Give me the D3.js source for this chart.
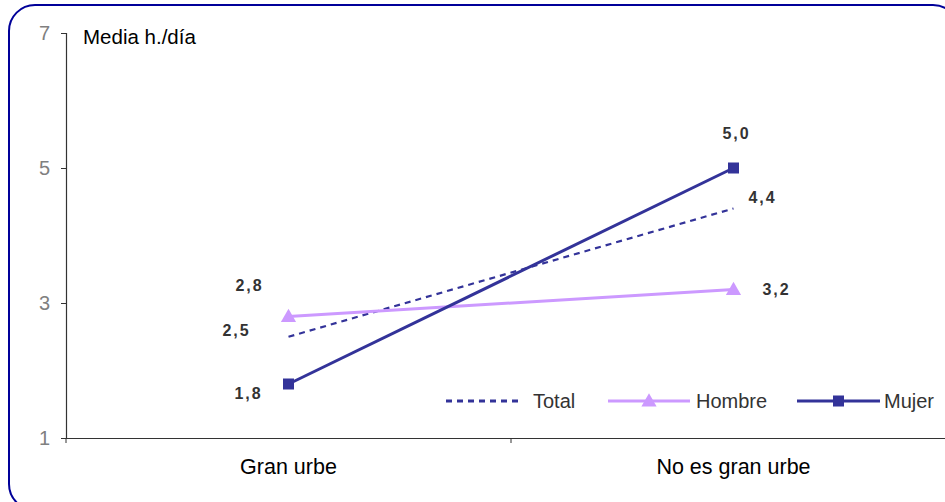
<!DOCTYPE html>
<html>
<head>
<meta charset="utf-8">
<script src="https://cdn.jsdelivr.net/npm/d3@7"></script>
<style>
  html, body { margin: 0; padding: 0; background: #fff; }
  svg { display: block; font-family: "Liberation Sans", Arial, sans-serif; }
</style>
</head>
<body>
<svg id="chart" width="945" height="502"></svg>
<script>
// Media de horas al día, por tipo de municipio y sexo
const categories = ["Gran urbe", "No es gran urbe"];
const total  = [2.5, 4.4];
const hombre = [2.8, 3.2];
const mujer  = [1.8, 5.0];
const yTicks = [1, 3, 5, 7];
const yTitle = "Media h./día";

const series = [
  { name: "Total",  values: total,  color: "#333399", width: 2.2, dash: "6,5", marker: null },
  { name: "Hombre", values: hombre, color: "#CC99FF", width: 3,   dash: null,  marker: "triangle" },
  { name: "Mujer",  values: mujer,  color: "#333399", width: 3,   dash: null,  marker: "square" }
];

const svg = d3.select("#chart");
const FONT = "Liberation Sans, Arial, sans-serif";

// rounded frame around the whole chart
svg.append("rect")
  .attr("x", 9).attr("y", 5)
  .attr("width", 950).attr("height", 505)
  .attr("rx", 26).attr("ry", 26)
  .attr("fill", "#fff")
  .attr("stroke", "#000099")
  .attr("stroke-width", 2);

const plotLeft = 66, plotRight = 956, plotTop = 33, plotBottom = 438;

const x = d3.scaleBand().domain(categories).range([plotLeft, plotRight]).padding(0);
const y = d3.scaleLinear().domain([1, 7]).range([plotBottom, plotTop]);
const cx = c => x(c) + x.bandwidth() / 2;

// y axis
const yAxis = svg.append("g")
  .attr("transform", `translate(${plotLeft},0)`)
  .call(d3.axisLeft(y).tickValues(yTicks).tickSize(5).tickPadding(11).tickFormat(d3.format("d")));
yAxis.select(".domain").attr("stroke", "#333").attr("stroke-width", 1.2);
yAxis.selectAll(".tick line").attr("stroke", "#333");
yAxis.selectAll(".tick text")
  .attr("fill", "#808080")
  .style("font-size", "20px")
  .style("font-family", FONT);

// x axis with ticks between categories
const xAxis = svg.append("g")
  .attr("transform", `translate(0,${plotBottom})`)
  .call(d3.axisBottom(x).tickSize(0).tickPadding(21));
xAxis.select(".domain").attr("stroke", "#333").attr("stroke-width", 1.2);
xAxis.selectAll(".tick text")
  .attr("fill", "#000")
  .style("font-size", "21.5px")
  .style("font-family", FONT);
xAxis.selectAll(".sep")
  .data(categories.map(c => x(c)))
  .enter().append("line")
  .attr("class", "sep")
  .attr("x1", d => d).attr("x2", d => d)
  .attr("y1", 0).attr("y2", 5)
  .attr("stroke", "#333");

// axis title
svg.append("text")
  .attr("x", 83).attr("y", 44)
  .attr("fill", "#000")
  .style("font-size", "20.5px")
  .text(yTitle);

// lines
const line = d3.line()
  .x((d, i) => cx(categories[i]))
  .y(d => y(d));

series.forEach(s => {
  svg.append("path")
    .datum(s.values)
    .attr("d", line)
    .attr("fill", "none")
    .attr("stroke", s.color)
    .attr("stroke-width", s.width)
    .attr("stroke-dasharray", s.dash);
});

// markers
const tri = d3.symbol().type(d3.symbolTriangle).size(100);
function drawMarker(g, type, color, px, py) {
  if (type === "square") {
    g.append("rect")
      .attr("x", px - 5.5).attr("y", py - 5.5)
      .attr("width", 11).attr("height", 11)
      .attr("fill", color);
  } else if (type === "triangle") {
    g.append("path")
      .attr("d", tri())
      .attr("transform", `translate(${px},${py + 1})`)
      .attr("fill", color);
  }
}
const markers = svg.append("g");
series.forEach(s => {
  if (!s.marker) return;
  s.values.forEach((v, i) => drawMarker(markers, s.marker, s.color, cx(categories[i]), y(v)));
});

// data labels
const fmt = v => d3.format(".1f")(v).replace(".", ",");
const labelOffsets = {
  Total:  [[-52, -6], [29, -11]],
  Hombre: [[-39, -31], [43, 0]],
  Mujer:  [[-40, 9], [3, -35]]
};
const labels = svg.append("g");
series.forEach(s => {
  s.values.forEach((v, i) => {
    const off = labelOffsets[s.name][i];
    labels.append("text")
      .attr("x", cx(categories[i]) + off[0])
      .attr("y", y(v) + off[1])
      .attr("text-anchor", "middle")
      .attr("dominant-baseline", "central")
      .attr("fill", "#333")
      .style("font-size", "16px")
      .style("font-weight", "bold")
      .style("letter-spacing", "2px")
      .text(fmt(v));
  });
});

// legend
const legendItems = [
  { s: series[0], x1: 446, x2: 522, tx: 533 },
  { s: series[1], x1: 608, x2: 690, tx: 696 },
  { s: series[2], x1: 797, x2: 880, tx: 884 }
];
const ly = 401;
const legend = svg.append("g");
legendItems.forEach(it => {
  legend.append("line")
    .attr("x1", it.x1).attr("x2", it.x2)
    .attr("y1", ly).attr("y2", ly)
    .attr("stroke", it.s.color)
    .attr("stroke-width", it.s.marker ? it.s.width : 3)
    .attr("stroke-dasharray", it.s.dash);
  drawMarker(legend, it.s.marker, it.s.color, (it.x1 + it.x2) / 2, ly);
  legend.append("text")
    .attr("x", it.tx).attr("y", ly)
    .attr("dominant-baseline", "central")
    .attr("fill", "#333")
    .style("font-size", "20px")
    .text(it.s.name);
});
</script>
</body>
</html>
